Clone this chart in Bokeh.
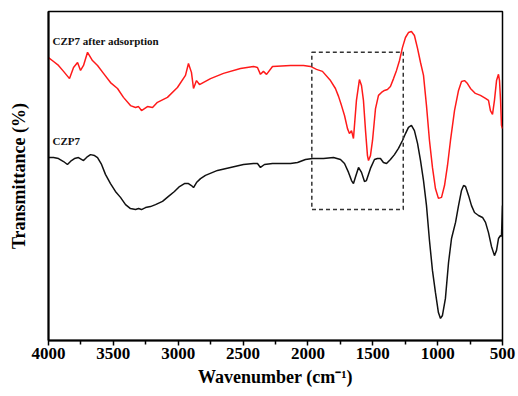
from bokeh.plotting import figure
from bokeh.models import Range1d, FixedTicker, ColumnDataSource
from bokeh.core.properties import value
from bokeh.embed import file_html
from bokeh.resources import INLINE

# ---- data (wavenumber cm-1, transmittance in arbitrary %) ----
red_wn = [4000, 3961, 3923, 3884, 3838, 3807, 3776, 3753, 3730, 3699, 3661, 3622, 3576, 3522,
          3468, 3422, 3368, 3329, 3306, 3283, 3237, 3198, 3160, 3083, 3006, 2944, 2921, 2898,
          2882, 2859, 2836, 2751, 2651, 2520, 2420, 2389, 2366, 2343, 2319, 2273, 2134, 2034,
          1980, 1934, 1888, 1826, 1788, 1764, 1741, 1718, 1695, 1680, 1664, 1649, 1626, 1603,
          1587, 1572, 1556, 1541, 1533, 1518, 1502, 1479, 1456, 1433, 1410, 1387, 1364, 1340,
          1317, 1294, 1271, 1248, 1225, 1202, 1179, 1155, 1132, 1109, 1086, 1063, 1040, 1017,
          994, 970, 947, 924, 901, 870, 839, 816, 793, 770, 747, 709, 670, 631, 608, 593, 577,
          562, 546, 531, 523, 515, 508, 500]
red_t = [86.0, 84.8, 83.6, 81.8, 79.6, 83.0, 84.5, 82.1, 83.6, 87.6, 85.1, 83.6, 81.2, 78.4,
         76.6, 73.9, 71.4, 70.8, 71.1, 69.9, 71.1, 70.8, 72.4, 73.9, 76.9, 80.6, 84.2, 81.5,
         76.6, 79.0, 77.8, 79.6, 81.2, 82.7, 83.3, 83.0, 80.9, 81.8, 80.9, 83.3, 83.6, 83.6,
         83.3, 82.4, 81.8, 79.0, 76.6, 74.2, 71.4, 68.4, 64.4, 62.9, 63.8, 61.4, 73.0, 79.3,
         77.5, 73.0, 63.8, 56.2, 54.7, 56.2, 60.8, 70.5, 74.5, 75.4, 76.0, 76.3, 77.2, 79.6,
         82.1, 85.1, 89.1, 92.1, 93.6, 93.9, 92.7, 88.8, 84.5, 80.6, 71.4, 60.8, 52.6, 46.2,
         43.2, 43.5, 47.1, 53.2, 60.8, 69.9, 76.0, 78.7, 79.0, 78.1, 76.6, 75.1, 74.5, 73.6,
         73.0, 69.9, 68.7, 73.0, 79.0, 80.9, 79.0, 73.0, 65.4, 64.4]

black_wn = [4000, 3961, 3923, 3884, 3854, 3823, 3800, 3769, 3730, 3699, 3676, 3645, 3622, 3591,
            3561, 3522, 3484, 3445, 3406, 3368, 3329, 3306, 3283, 3252, 3214, 3175, 3121, 3075,
            3029, 2990, 2952, 2921, 2898, 2882, 2859, 2828, 2790, 2697, 2597, 2497, 2420, 2389,
            2366, 2335, 2273, 2134, 2080, 2019, 1965, 1880, 1803, 1749, 1718, 1687, 1664, 1649,
            1634, 1610, 1587, 1564, 1549, 1518, 1487, 1464, 1441, 1418, 1394, 1364, 1333, 1302,
            1271, 1248, 1225, 1202, 1179, 1155, 1132, 1109, 1086, 1063, 1040, 1017, 994, 978,
            963, 940, 916, 893, 862, 839, 816, 800, 785, 762, 739, 716, 685, 654, 631, 608, 585,
            562, 546, 531, 515, 508, 500]
black_t = [55.6, 55.6, 55.3, 54.4, 53.5, 54.7, 55.3, 55.6, 54.7, 55.9, 56.5, 56.2, 55.6, 53.5,
           50.5, 47.7, 45.3, 43.5, 41.3, 40.1, 39.8, 40.1, 39.8, 40.4, 40.7, 41.3, 42.3, 43.8,
           45.3, 46.8, 47.7, 47.7, 47.1, 46.5, 48.0, 49.2, 50.2, 51.7, 52.6, 53.5, 53.8, 53.8,
           52.6, 53.5, 53.8, 53.8, 54.1, 55.0, 55.3, 55.3, 55.6, 55.0, 53.8, 51.1, 48.6, 47.7,
           49.6, 52.6, 51.1, 48.3, 48.6, 52.3, 55.0, 55.3, 55.3, 54.1, 53.8, 55.0, 56.5, 58.4,
           60.8, 62.9, 64.8, 65.4, 63.8, 59.9, 54.7, 48.6, 41.0, 30.4, 21.3, 14.6, 8.5, 6.7,
           7.6, 12.8, 23.7, 31.0, 35.9, 41.0, 45.6, 47.1, 46.8, 44.1, 41.0, 38.9, 38.0, 37.4,
           35.9, 32.8, 28.6, 25.8, 27.4, 31.0, 31.9, 31.6, 41.0]

series_names = ["CZP7 after adsorption", "CZP7"]
label_wn = [3969, 3969]
label_t = [90.9, 60.5]

box_left = [1970]
box_right = [1265]
box_top = [87.6]
box_bottom = [39.8]

x_ticks = [4000, 3500, 3000, 2500, 2000, 1500, 1000, 500]
x_minor = [3750, 3250, 2750, 2250, 1750, 1250, 750]

FONT = "Liberation Serif"

p = figure(width=518, height=396, output_backend="svg", toolbar_location=None,
           x_range=Range1d(4000, 500), y_range=Range1d(0, 100),
           min_border_left=48, min_border_right=16, min_border_top=11, min_border_bottom=56)
p.background_fill_color = "white"
p.border_fill_color = "white"
p.grid.visible = False
p.outline_line_color = "black"
p.outline_line_width = 1.5

p.line(red_wn, red_t, line_color="#ff1a1a", line_width=1.5)
p.line(black_wn, black_t, line_color="#111111", line_width=1.5)

p.quad(left=box_left, right=box_right, top=box_top, bottom=box_bottom,
       fill_color=None, line_color="#333333", line_width=1.5, line_dash="4 3")

src = ColumnDataSource(dict(x=label_wn, y=label_t, t=series_names))
p.text(x="x", y="y", text="t", source=src, text_font=value(FONT), text_font_style="bold",
       text_font_size="11px", text_align="left", text_baseline="middle", text_color="#111111")

# x axis
xa = p.xaxis[0]
xa.ticker = FixedTicker(ticks=x_ticks, minor_ticks=x_minor)
xa.axis_line_width = 2
xa.axis_line_color = "black"
xa.major_tick_in = 0
xa.major_tick_out = 5
xa.minor_tick_in = 0
xa.minor_tick_out = 4
xa.major_tick_line_width = 1.5
xa.minor_tick_line_width = 1.5
xa.major_label_standoff = 2
xa.major_label_text_font = FONT
xa.major_label_text_font_style = "bold"
xa.major_label_text_font_size = "17px"
xa.major_label_text_color = "black"
xa.axis_label = "Wavenumber (cm\u207b\u00b9)"
xa.axis_label_text_font = FONT
xa.axis_label_text_font_style = "bold"
xa.axis_label_text_font_size = "18px"
xa.axis_label_text_color = "black"
xa.axis_label_standoff = 5

# y axis
ya = p.yaxis[0]
ya.ticker = FixedTicker(ticks=[])
ya.axis_line_width = 2
ya.axis_line_color = "black"
ya.major_tick_out = 0
ya.major_tick_in = 0
ya.minor_tick_out = 0
ya.minor_tick_in = 0
ya.major_label_text_font_size = "0px"
ya.axis_label = "Transmittance (%)"
ya.axis_label_text_font = FONT
ya.axis_label_text_font_style = "bold"
ya.axis_label_text_font_size = "18px"
ya.axis_label_text_color = "black"
ya.axis_label_standoff = 20

open("out.html", "w").write(file_html(p, INLINE))
